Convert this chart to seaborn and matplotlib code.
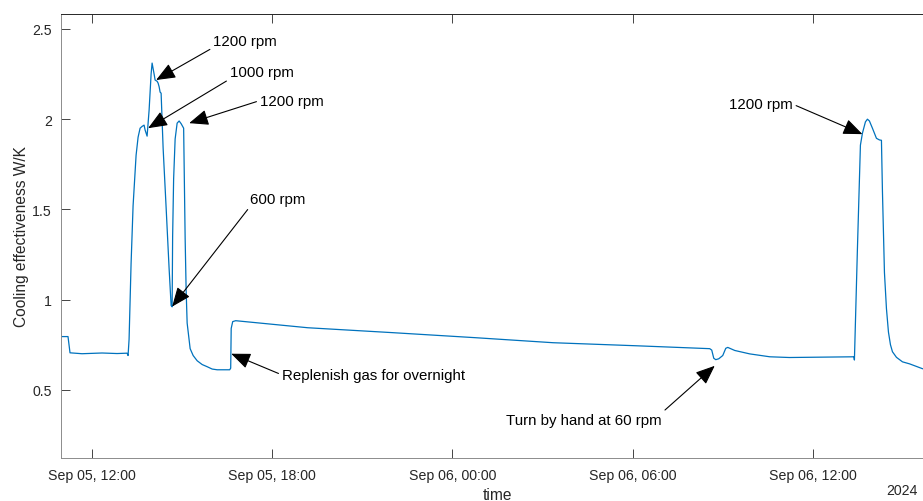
import numpy as np
import pandas as pd
import matplotlib
matplotlib.use('Agg')
import matplotlib.pyplot as plt
import matplotlib.dates as mdates
from matplotlib.ticker import FixedLocator, FormatStrFormatter
import seaborn as sns

# Data (cooling effectiveness vs time)
times = [
    "2024-09-05 10:58", "2024-09-05 11:12", "2024-09-05 11:16", "2024-09-05 11:40",
    "2024-09-05 12:20", "2024-09-05 12:50", "2024-09-05 13:10", "2024-09-05 13:12",
    "2024-09-05 13:14", "2024-09-05 13:18", "2024-09-05 13:22", "2024-09-05 13:28",
    "2024-09-05 13:32", "2024-09-05 13:36", "2024-09-05 13:40", "2024-09-05 13:44",
    "2024-09-05 13:46", "2024-09-05 13:50", "2024-09-05 13:54", "2024-09-05 13:58",
    "2024-09-05 14:00", "2024-09-05 14:04", "2024-09-05 14:06", "2024-09-05 14:10",
    "2024-09-05 14:12", "2024-09-05 14:14", "2024-09-05 14:16", "2024-09-05 14:18",
    "2024-09-05 14:22", "2024-09-05 14:28", "2024-09-05 14:34", "2024-09-05 14:38",
    "2024-09-05 14:40", "2024-09-05 14:41", "2024-09-05 14:43", "2024-09-05 14:46",
    "2024-09-05 14:50", "2024-09-05 14:54", "2024-09-05 14:58", "2024-09-05 15:01",
    "2024-09-05 15:03", "2024-09-05 15:06", "2024-09-05 15:08", "2024-09-05 15:10",
    "2024-09-05 15:16", "2024-09-05 15:22", "2024-09-05 15:30", "2024-09-05 15:40",
    "2024-09-05 15:50", "2024-09-05 16:00", "2024-09-05 16:10", "2024-09-05 16:35",
    "2024-09-05 16:37", "2024-09-05 16:38", "2024-09-05 16:41", "2024-09-05 16:47",
    "2024-09-05 19:11", "2024-09-05 21:59", "2024-09-06 00:45", "2024-09-06 03:21",
    "2024-09-06 06:08", "2024-09-06 08:34", "2024-09-06 08:38", "2024-09-06 08:42",
    "2024-09-06 08:46", "2024-09-06 08:52", "2024-09-06 09:00", "2024-09-06 09:06",
    "2024-09-06 09:10", "2024-09-06 09:24", "2024-09-06 09:54", "2024-09-06 10:34",
    "2024-09-06 11:13", "2024-09-06 13:22", "2024-09-06 13:23", "2024-09-06 13:29",
    "2024-09-06 13:35", "2024-09-06 13:39", "2024-09-06 13:45", "2024-09-06 13:49",
    "2024-09-06 13:53", "2024-09-06 13:59", "2024-09-06 14:07", "2024-09-06 14:13",
    "2024-09-06 14:17", "2024-09-06 14:19", "2024-09-06 14:23", "2024-09-06 14:27",
    "2024-09-06 14:31", "2024-09-06 14:35", "2024-09-06 14:39", "2024-09-06 14:47",
    "2024-09-06 14:59", "2024-09-06 15:13", "2024-09-06 15:39", "2024-09-06 16:00",
]
effectiveness = [
    0.795, 0.795, 0.705, 0.700,
    0.704, 0.701, 0.703, 0.690,
    0.78, 1.20, 1.52, 1.80,
    1.90, 1.95, 1.96, 1.967,
    1.94, 1.906, 2.05, 2.25,
    2.311, 2.25, 2.217, 2.21,
    2.20, 2.18, 2.15, 2.144,
    1.84, 1.51, 1.17, 0.967,
    0.96, 1.35, 1.67, 1.89,
    1.978, 1.99, 1.975, 1.96,
    1.95, 1.34, 1.05, 0.87,
    0.728, 0.69, 0.661, 0.64,
    0.628, 0.615, 0.611, 0.611,
    0.62, 0.84, 0.878, 0.883,
    0.844, 0.817, 0.789, 0.761,
    0.744, 0.728, 0.72, 0.675,
    0.667, 0.672, 0.69, 0.73,
    0.735, 0.718, 0.699, 0.683,
    0.679, 0.683, 0.665, 1.28,
    1.856, 1.922, 1.985, 2.0,
    1.99, 1.95, 1.894, 1.885,
    1.883, 1.60, 1.15, 0.95,
    0.82, 0.75, 0.711, 0.68,
    0.655, 0.644, 0.617, 0.605,
]

df = pd.DataFrame({'time': pd.to_datetime(times), 'eff': effectiveness})

sns.set_theme(style='ticks')
plt.rcParams['font.family'] = ['Liberation Sans', 'DejaVu Sans']

fig = plt.figure(figsize=(9.23, 5.02), dpi=100)
ax = fig.add_axes([61/923, 43/502, 872/923, 444/502])

sns.lineplot(data=df, x='time', y='eff', ax=ax, color='#0072BD', linewidth=0.9)

t = lambda s: mdates.date2num(pd.Timestamp(s))
ax.set_xlim(t("2024-09-05 10:58"), t("2024-09-06 16:00"))
ax.set_ylim(0.122, 2.583)

ax.xaxis.set_major_locator(mdates.HourLocator(byhour=[0, 6, 12, 18]))
ax.xaxis.set_major_formatter(mdates.DateFormatter('%b %d, %H:%M'))
ax.yaxis.set_major_locator(FixedLocator([0.5, 1, 1.5, 2, 2.5]))
ax.yaxis.set_major_formatter(FormatStrFormatter('%g'))

ax.tick_params(axis='both', direction='in', length=6.5, width=0.6,
               color='#262626', labelcolor='#262626', labelsize=10.2)
ax.tick_params(axis='x', top=True, pad=7)
ax.tick_params(axis='y', pad=6.5)

for side in ['top', 'right']:
    ax.spines[side].set_color('#262626')
for side in ['bottom', 'left']:
    ax.spines[side].set_color('#8c8c8c')
for sp in ax.spines.values():
    sp.set_linewidth(0.7)

ax.set_xlabel('time', fontsize=11.2, color='#262626', labelpad=4)
ax.set_ylabel('Cooling effectiveness W/K', fontsize=11.2, color='#262626', labelpad=2)
fig.text(918/923, 7/502, '2024', ha='right', va='baseline', fontsize=10.2, color='#262626')

arrow = dict(arrowstyle='-|>,head_length=1.1,head_width=0.45', color='black',
             lw=0.8, shrinkA=0, shrinkB=0)

notes = [
    ('1200 rpm', "2024-09-05 14:08", 2.217, "2024-09-05 16:02", 2.436, 'left', (0, 0)),
    ('1000 rpm', "2024-09-05 13:52", 1.95, "2024-09-05 16:35", 2.261, 'left', (0, 0)),
    ('1200 rpm', "2024-09-05 15:14", 1.978, "2024-09-05 17:35", 2.103, 'left', (0, 0.5)),
    ('600 rpm', "2024-09-05 14:40", 0.961, "2024-09-05 17:16", 1.556, 'left', (0, 0)),
    ('Replenish gas for overnight', "2024-09-05 16:38", 0.70, "2024-09-05 18:19", 0.583, 'left', (0, 0.5)),
    ('Turn by hand at 60 rpm', "2024-09-06 08:44", 0.633, "2024-09-06 06:58", 0.333, 'right', (1, 1)),
    ('1200 rpm', "2024-09-06 13:39", 1.917, "2024-09-06 11:20", 2.083, 'right', (1, 0.5)),
]
for label, tx, ty, lx, ly, ha, rp in notes:
    ax.annotate(label, xy=(t(tx), ty), xytext=(t(lx), ly), ha=ha, va='center',
                fontsize=10.8, color='black',
                arrowprops=dict(arrow, relpos=rp))

plt.savefig('out.png', dpi=100)
